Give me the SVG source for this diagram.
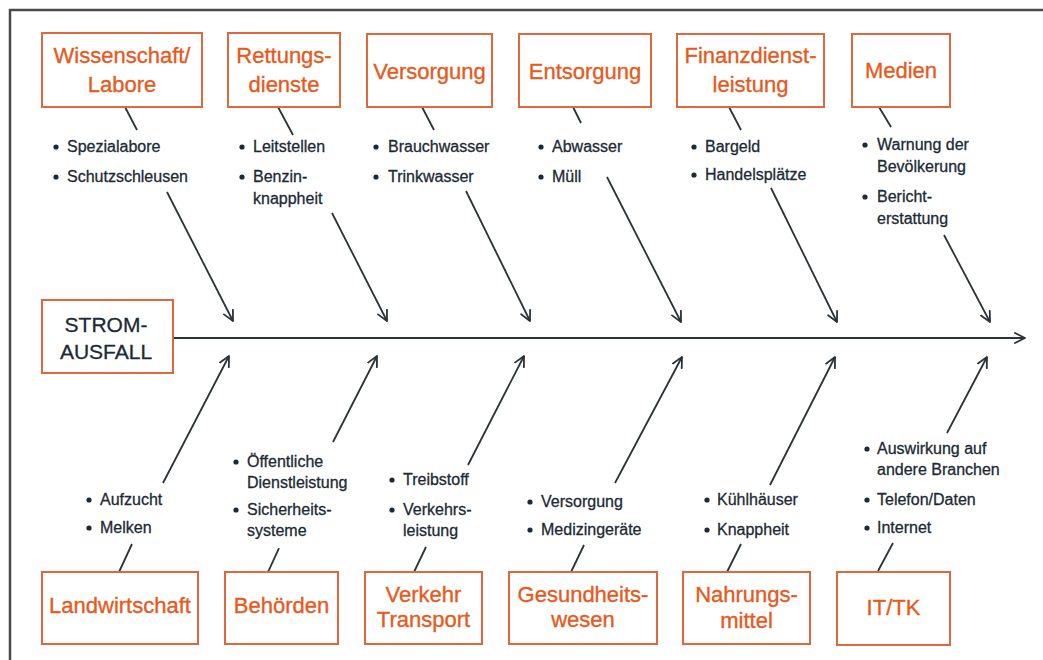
<svg xmlns="http://www.w3.org/2000/svg" width="1043" height="660" viewBox="0 0 1043 660">
  <defs>
    <marker id="arrow" viewBox="0 0 12 12" refX="11" refY="6" markerWidth="12" markerHeight="12" markerUnits="userSpaceOnUse" orient="auto">
      <path d="M1,1 L11,6 L1,11" fill="none" stroke="#2b3338" stroke-width="1.8" stroke-linecap="round" stroke-linejoin="round"/>
    </marker>
    <style>
      .box { fill: #ffffff; stroke: #e0683f; stroke-width: 2; }
      .title { font-family: "Liberation Sans", Arial, sans-serif; font-size: 22px; fill: #e65a1e; stroke: #e65a1e; stroke-width: 0.35; text-anchor: middle; }
      .item { font-family: "Liberation Sans", Arial, sans-serif; font-size: 16px; fill: #1c2a36; stroke: #1c2a36; stroke-width: 0.3; }
      .main { font-family: "Liberation Sans", Arial, sans-serif; font-size: 21px; fill: #1c2a36; stroke: #1c2a36; stroke-width: 0.3; text-anchor: middle; }
      .link { stroke: #2b3338; stroke-width: 1.8; fill: none; }
      .arr { stroke: #2b3338; stroke-width: 1.8; fill: none; marker-end: url(#arrow); }
      .dot { fill: #1c2a36; }
    </style>
  </defs>

  <rect width="1043" height="660" fill="#ffffff"/>
  <!-- outer frame -->
  <rect x="10" y="10" width="1045" height="665" fill="none" stroke="#4a4a4a" stroke-width="2.5"/>

  <!-- connectors -->
  <g id="connectors">
    <!-- spine -->
    <line class="arr" x1="174" y1="338" x2="1025" y2="338"/>
    <!-- upper branches -->
    <line class="link" x1="125" y1="107" x2="137" y2="130"/>
    <line class="arr" x1="167" y1="192" x2="233" y2="321"/>
    <line class="link" x1="278" y1="107" x2="293" y2="135"/>
    <line class="arr" x1="332" y1="213" x2="387" y2="321"/>
    <line class="link" x1="422" y1="107" x2="434" y2="130"/>
    <line class="arr" x1="466" y1="191" x2="530" y2="321"/>
    <line class="link" x1="573" y1="107" x2="581" y2="123"/>
    <line class="arr" x1="607" y1="177" x2="681" y2="322"/>
    <line class="link" x1="729" y1="107" x2="741" y2="130"/>
    <line class="arr" x1="771" y1="188" x2="837" y2="322"/>
    <line class="link" x1="879" y1="107" x2="891" y2="127"/>
    <line class="arr" x1="944" y1="235" x2="990" y2="322"/>
    <!-- lower branches -->
    <line class="link" x1="132" y1="544" x2="119" y2="572"/>
    <line class="arr" x1="163" y1="483" x2="229" y2="356"/>
    <line class="link" x1="279" y1="548" x2="268" y2="572"/>
    <line class="arr" x1="333" y1="442" x2="377" y2="356"/>
    <line class="link" x1="426" y1="547" x2="414" y2="572"/>
    <line class="arr" x1="468" y1="465" x2="524" y2="356"/>
    <line class="link" x1="584" y1="545" x2="571" y2="572"/>
    <line class="arr" x1="615" y1="483" x2="682" y2="357"/>
    <line class="link" x1="741" y1="544" x2="727" y2="572"/>
    <line class="arr" x1="770" y1="485" x2="835" y2="357"/>
    <line class="link" x1="893" y1="543" x2="878" y2="571"/>
    <line class="arr" x1="947" y1="433" x2="987" y2="357"/>
  </g>

  <!-- effect -->
  <g id="stromausfall">
    <rect class="box" x="42" y="300" width="131" height="73"/>
    <text class="main" x="106" y="332">STROM-</text>
    <text class="main" x="106" y="359">AUSFALL</text>
  </g>

  <!-- upper causes -->
  <g id="wissenschaft">
    <rect class="box" x="42" y="33" width="160" height="74"/>
    <text class="title" x="122" y="63">Wissenschaft/</text>
    <text class="title" x="122" y="92">Labore</text>
    <circle class="dot" cx="56" cy="147" r="2.6"/>
    <text class="item" x="67" y="152">Spezialabore</text>
    <circle class="dot" cx="56" cy="177" r="2.6"/>
    <text class="item" x="67" y="182">Schutzschleusen</text>
  </g>

  <g id="rettungsdienste">
    <rect class="box" x="228" y="33" width="112" height="74"/>
    <text class="title" x="284" y="63">Rettungs-</text>
    <text class="title" x="284" y="92">dienste</text>
    <circle class="dot" cx="242" cy="147" r="2.6"/>
    <text class="item" x="253" y="152">Leitstellen</text>
    <circle class="dot" cx="242" cy="177" r="2.6"/>
    <text class="item" x="253" y="182">Benzin-</text>
    <text class="item" x="253" y="204">knappheit</text>
  </g>

  <g id="versorgung">
    <rect class="box" x="367" y="34" width="125" height="73"/>
    <text class="title" x="429.5" y="79">Versorgung</text>
    <circle class="dot" cx="376" cy="147" r="2.6"/>
    <text class="item" x="388" y="152">Brauchwasser</text>
    <circle class="dot" cx="376" cy="177" r="2.6"/>
    <text class="item" x="388" y="182">Trinkwasser</text>
  </g>

  <g id="entsorgung">
    <rect class="box" x="519" y="34" width="132" height="73"/>
    <text class="title" x="585" y="79">Entsorgung</text>
    <circle class="dot" cx="541" cy="147" r="2.6"/>
    <text class="item" x="552" y="152">Abwasser</text>
    <circle class="dot" cx="541" cy="177" r="2.6"/>
    <text class="item" x="552" y="182">Müll</text>
  </g>

  <g id="finanzdienstleistung">
    <rect class="box" x="677" y="34" width="147" height="73"/>
    <text class="title" x="750.5" y="63">Finanzdienst-</text>
    <text class="title" x="750.5" y="92">leistung</text>
    <circle class="dot" cx="694" cy="147" r="2.6"/>
    <text class="item" x="705" y="152">Bargeld</text>
    <circle class="dot" cx="694" cy="175" r="2.6"/>
    <text class="item" x="705" y="180">Handelsplätze</text>
  </g>

  <g id="medien">
    <rect class="box" x="852" y="34" width="98" height="73"/>
    <text class="title" x="901" y="78">Medien</text>
    <circle class="dot" cx="865" cy="145" r="2.6"/>
    <text class="item" x="877" y="150">Warnung der</text>
    <text class="item" x="877" y="172">Bevölkerung</text>
    <circle class="dot" cx="865" cy="197" r="2.6"/>
    <text class="item" x="877" y="202">Bericht-</text>
    <text class="item" x="877" y="224">erstattung</text>
  </g>

  <!-- lower causes -->
  <g id="landwirtschaft">
    <rect class="box" x="42" y="572" width="156" height="72"/>
    <text class="title" x="120" y="613">Landwirtschaft</text>
    <circle class="dot" cx="89" cy="500" r="2.6"/>
    <text class="item" x="100" y="505">Aufzucht</text>
    <circle class="dot" cx="89" cy="528" r="2.6"/>
    <text class="item" x="100" y="533">Melken</text>
  </g>

  <g id="behoerden">
    <rect class="box" x="225" y="572" width="113" height="72"/>
    <text class="title" x="281.5" y="613">Behörden</text>
    <circle class="dot" cx="236" cy="462" r="2.6"/>
    <text class="item" x="247" y="467">Öffentliche</text>
    <text class="item" x="247" y="488">Dienstleistung</text>
    <circle class="dot" cx="236" cy="510" r="2.6"/>
    <text class="item" x="247" y="515">Sicherheits-</text>
    <text class="item" x="247" y="536">systeme</text>
  </g>

  <g id="verkehr">
    <rect class="box" x="365" y="572" width="117" height="72"/>
    <text class="title" x="423.5" y="602">Verkehr</text>
    <text class="title" x="423.5" y="627">Transport</text>
    <circle class="dot" cx="392" cy="480" r="2.6"/>
    <text class="item" x="403" y="485">Treibstoff</text>
    <circle class="dot" cx="392" cy="510" r="2.6"/>
    <text class="item" x="403" y="515">Verkehrs-</text>
    <text class="item" x="403" y="536">leistung</text>
  </g>

  <g id="gesundheitswesen">
    <rect class="box" x="509" y="572" width="148" height="72"/>
    <text class="title" x="583" y="602">Gesundheits-</text>
    <text class="title" x="583" y="627">wesen</text>
    <circle class="dot" cx="530" cy="502" r="2.6"/>
    <text class="item" x="541" y="507">Versorgung</text>
    <circle class="dot" cx="530" cy="530" r="2.6"/>
    <text class="item" x="541" y="535">Medizingeräte</text>
  </g>

  <g id="nahrungsmittel">
    <rect class="box" x="683" y="572" width="127" height="72"/>
    <text class="title" x="746.5" y="602">Nahrungs-</text>
    <text class="title" x="746.5" y="628">mittel</text>
    <circle class="dot" cx="707" cy="500" r="2.6"/>
    <text class="item" x="717" y="505">Kühlhäuser</text>
    <circle class="dot" cx="707" cy="530" r="2.6"/>
    <text class="item" x="717" y="535">Knappheit</text>
  </g>

  <g id="it-tk">
    <rect class="box" x="837" y="572" width="113" height="73"/>
    <text class="title" x="893.5" y="615">IT/TK</text>
    <circle class="dot" cx="867" cy="449" r="2.6"/>
    <text class="item" x="877" y="454">Auswirkung auf</text>
    <text class="item" x="877" y="475">andere Branchen</text>
    <circle class="dot" cx="867" cy="500" r="2.6"/>
    <text class="item" x="877" y="505">Telefon/Daten</text>
    <circle class="dot" cx="867" cy="528" r="2.6"/>
    <text class="item" x="877" y="533">Internet</text>
  </g>
</svg>
